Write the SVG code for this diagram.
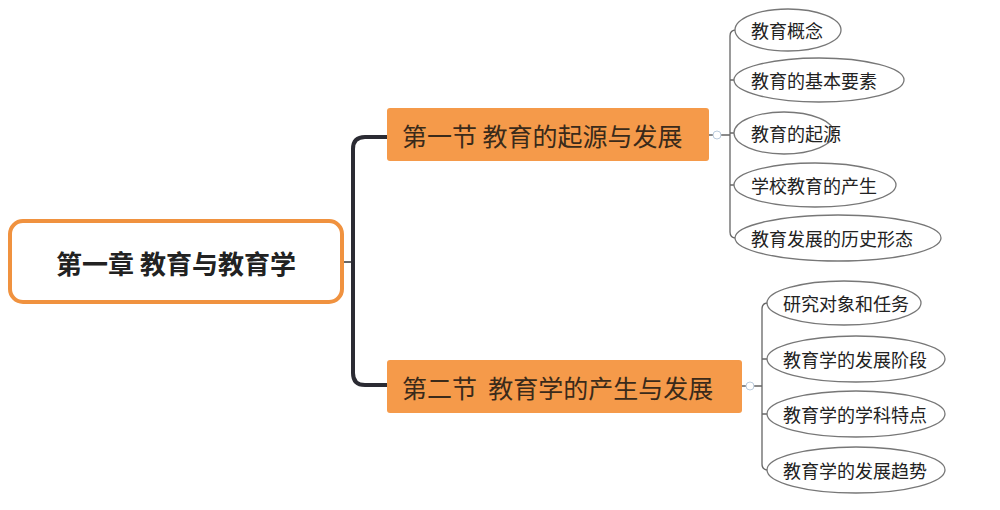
<svg xmlns="http://www.w3.org/2000/svg" width="1000" height="510" viewBox="0 0 1000 510">
<style>
text{font-family:"Noto Sans CJK SC","Noto Sans",sans-serif;fill:#222}
.leaf ellipse{fill:#fff;stroke:#777;stroke-width:1.3}
.leaf text{font-size:18px;text-anchor:start;dominant-baseline:central}
.sec rect{fill:#f59a4a}
.sec text{font-size:25px;dominant-baseline:central;fill:#3a2a1a}
.thin{fill:none;stroke:#666;stroke-width:1.3}
</style>
<rect width="1000" height="510" fill="#fff"/>
<g id="connectors">
<path d="M343,262 H353" stroke="#333" stroke-width="1.5"/>
<path d="M387,137 H365 Q353,137 353,149 V373 Q353,385 365,385 H387" fill="none" stroke="#2b2b33" stroke-width="4"/>
<path class="thin" d="M709,135 H730 M736,30 Q730,30 730,36 V232 Q730,238 736,238 M730,80 H736 M730,133 H736 M730,185 H736"/>
<path class="thin" d="M742,386 H762 M768,303 Q762,303 762,309 V464 Q762,470 768,470 M762,359 H768 M762,414 H768"/>
<circle cx="717" cy="135" r="4" fill="#fff" stroke="#bcd" stroke-width="1"/>
<circle cx="750" cy="386" r="4" fill="#fff" stroke="#bcd" stroke-width="1"/>
</g>
<g id="root"><rect x="10" y="221" width="332" height="81" rx="13" fill="#fff" stroke="#f0923f" stroke-width="4"/>
<text x="176" y="262" font-size="26" font-weight="bold" text-anchor="middle" dominant-baseline="central">第一章 教育与教育学</text></g>
<g id="sec1" class="sec"><rect x="387" y="108" width="322" height="53" rx="3"/><text x="402" y="135">第一节 教育的起源与发展</text></g>
<g id="sec2" class="sec"><rect x="387" y="360" width="355" height="53" rx="3"/><text x="402" y="387">第二节&#160; 教育学的产生与发展</text></g>
<g id="l1" class="leaf"><ellipse cx="788" cy="30" rx="53" ry="21"/><text x="751" y="30">教育概念</text></g>
<g id="l2" class="leaf"><ellipse cx="819" cy="80" rx="85" ry="22"/><text x="751" y="80">教育的基本要素</text></g>
<g id="l3" class="leaf"><ellipse cx="784" cy="133" rx="50" ry="21"/><text x="751" y="133">教育的起源</text></g>
<g id="l4" class="leaf"><ellipse cx="815" cy="185" rx="81" ry="22"/><text x="751" y="185">学校教育的产生</text></g>
<g id="l5" class="leaf"><ellipse cx="838" cy="238" rx="103" ry="23"/><text x="751" y="238">教育发展的历史形态</text></g>
<g id="l6" class="leaf"><ellipse cx="844" cy="303" rx="77" ry="22"/><text x="783" y="303">研究对象和任务</text></g>
<g id="l7" class="leaf"><ellipse cx="856" cy="359" rx="89" ry="23"/><text x="783" y="359">教育学的发展阶段</text></g>
<g id="l8" class="leaf"><ellipse cx="856" cy="414" rx="89" ry="23"/><text x="783" y="414">教育学的学科特点</text></g>
<g id="l9" class="leaf"><ellipse cx="856" cy="470" rx="89" ry="23"/><text x="783" y="470">教育学的发展趋势</text></g>
</svg>
